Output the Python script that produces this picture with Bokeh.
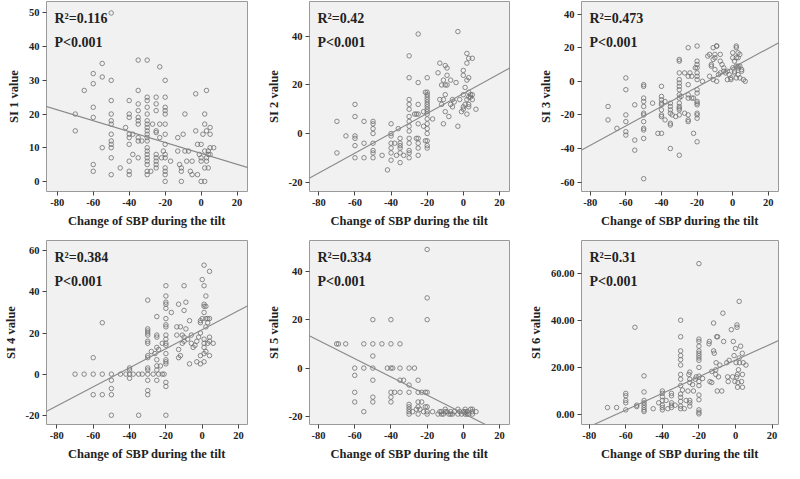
from bokeh.plotting import figure
from bokeh.layouts import gridplot
from bokeh.models import FixedTicker, Slope, Label, Range1d
from bokeh.embed import file_html
from bokeh.resources import INLINE

# ---------------- data ----------------
x_ticks = [-80, -60, -40, -20, 0, 20]
x_tick_labels = ["-80", "-60", "-40", "-20", "0", "20"]
x_title = "Change of SBP during the tilt"

si1_x = [-50, -55, -60, -60, -55, -50, -65, -70, -70, -60, -60, -60, -60, -55, -50, -50, -50, -50, -50, -50, -50, -50, -50, -50,
         -45, -42, -40, -40, -40, -40, -40, -40, -40, -40, -40, -38, -38, -35, -35, -35, -35, -35, -35, -35, -35, -35, -35, -33,
         -30, -30, -30, -30, -30, -30, -30, -30, -30, -30, -30, -30, -30, -30, -30, -30, -30, -30, -30, -30, -28, -27,
         -25, -25, -25, -25, -25, -25, -25, -25, -25, -25, -23, -23, -23, -22,
         -20, -20, -20, -20, -20, -20, -20, -20, -20, -20, -20, -20, -20, -20, -21, -17, -13, -13, -12, -11, -11, -11, -10, -9, -9,
         -8, -7, -6, -5, -5, -3, -3, -2, -2, -1, 0, 0, 0, 1, 0, 2, 2, 2, 2, 2, 3, 3, 3, 3, 4, 4, 4, 5, 5, 5, 5, 7]
si1_y = [50, 35, 32, 29, 31, 30, 27, 20, 15, 22, 19, 5, 3, 10, 24, 20, 18, 17, 14, 12, 11, 10, 7, 2,
         4, 16, 24, 20, 19, 14, 13, 11, 6, 3, 2, 14, 8, 36, 27, 23, 21, 19, 18, 17, 13, 12, 7, 12,
         36, 25, 24, 22, 20, 18, 17, 16, 15, 14, 13, 12, 10, 9, 8, 7, 6, 5, 3, 2, 3, 17,
         25, 23, 21, 15, 14.5, 8, 7, 6, 5, 4, 34, 17, 13, 7,
         30, 25, 22, 21, 20, 17, 14, 11, 8, 7, 4, 3, 2, 0, 9, 6, 13, 9, 5, 4, 3, 0, 14, 9, 20,
         6, 9, 3, 6, 2, 26, 15, 2, 11, 8, 11, 6, 7, 14, 0, 0, 20, 17, 9, 4, 6, 27, 15, 7, 4, 8, 9, 16, 14, 8, 10, 10]

si2_x = [-70, -70, -65, -60, -60, -60, -60, -60, -60, -55, -55, -55, -50, -50, -50, -50, -50, -50, -50, -50,
         -45, -42, -40, -40, -40, -40, -40, -40, -40, -38, -37, -36, -35, -35, -35, -35, -35, -35, -33,
         -30, -30, -30, -30, -30, -30, -30, -30, -30, -30, -30, -30, -30, -30, -27, -26,
         -25, -25, -25, -25, -25, -25, -25, -25, -25, -26, -22, -22, -21, -21,
         -20, -20, -20, -20, -20, -20, -20, -20, -20, -20, -20, -20, -20, -20, -20, -20, -20, -20, -17,
         -14, -13, -13, -12, -12, -11, -11, -11, -10, -10, -10, -10, -9, -9, -9, -8, -7, -7, -6, -6, -5, -4, -3, -3,
         -2, -1, 0, 0, 0, 0, 0, 1, 1, 2, 2, 2, 2, 2, 3, 3, 3, 3, 3, 3, 4, 4, 5, 5, 5, 7]
si2_y = [5, -8, -1, 12, 7, -1, -2, -5, -10, 5, -4, -10, 5, 4, 2, 0, -4, -7, -8, -10,
         -9, -15, 4, 0, -1, -4, -6, -8, -11, -4, -9, 2, -2, -4, -5, -6, -8, -12, -9,
         32, 23, 14, 12, 10, 7, 5, 3, 1, -2, -4, -7, -8, -10, 8, -2,
         41, 21, 12, 8, 4, -2, -4, -6, -9, 8, 9, 3, -3, 17,
         23, 17, 16, 15, 14, 13, 12, 11, 10, 9, 8, 6, 4, 2, 0, -3, -5, -6, 6,
         25, 29, 14, 12, 20, 14, 4, 22, 16, 20, 28, 9, 20, 27, 24, 7, 12, 22, 11, 14, 13, 21, 42, 3,
         14, 9, 26, 24, 16, 11, 10, 19, 12, 8, 33, 29, 14, 22, 11, 31, 23, 17, 12, 15, 16, 15, 31, 16, 14, 10]

si3_x = [-70, -70, -65, -60, -60, -60, -60, -60, -60, -55, -55, -55,
         -50, -50, -50, -50, -50, -50, -50, -50, -50, -50, -50, -50, -45, -42,
         -40, -40, -40, -40, -40, -40, -40, -40, -40, -38, -38, -35, -35, -35, -35, -35, -35, -35, -34, -32,
         -30, -30, -30, -30, -30, -30, -30, -30, -30, -30, -30, -30, -30, -30, -30, -29, -27, -27,
         -25, -25, -25, -25, -25, -25, -25, -25, -24, -23, -23, -22, -22, -21,
         -20, -20, -20, -20, -20, -20, -20, -20, -20, -20, -20, -20, -20, -20, -20, -20,
         -17, -14, -13, -13, -12, -12, -11, -11, -11, -10, -10, -10, -9, -9, -9, -8, -7, -7, -7, -6, -5, -5, -4, -3, -3,
         -2, -1, -1, 0, 0, 0, 1, 1, 1, 2, 2, 2, 2, 2, 3, 3, 3, 3, 3, 4, 4, 4, 5, 5, 6, 7]
si3_y = [-15, -23, -28, 2, -5, -20, -24, -30, -32, -14, -35, -41,
         -2, -3, -10, -12, -15, -19, -20, -24, -28, -29, -34, -58, -13, -31,
         -3, -9, -11, -13, -14, -17, -20, -21, -31, -12, -23, -13, -15, -17, -19, -25, -26, -40, -20, -21,
         13, 12, 5, 1, -1, -3, -5, -8, -10, -13, -15, -16, -17, -20, -44, -9, 5, -19,
         20, 3, -2, -8, -10, -20, -23, -24, 5, -10, 3, -31, -10, 8,
         21, 12, 10, 8, 5, 3, 1, -5, -7, -12, -13, -14, -19, -20, -22, -36,
         0, 15, 16, 3, 9, 10, 1, 13, 20, 16, 14, 7, 21, 21, 0, 4, 5, 16, 12, 10, 8, 6, 5, 1, 6,
         4, 2, 1, 8, 17, 14, 12, 6, 5, 21, 20, 9, 2, 14, 4, 9, 17, 8, 14, 9, 2, 16, 6, 7, 1, 0]

si4_x = [-70, -65, -60, -60, -60, -55, -55, -55, -50, -50, -50, -50, -50, -45, -42, -40, -40, -40, -40, -38, -35, -35, -33,
         -30, -30, -30, -30, -30, -30, -30, -30, -30, -30, -30, -30, -30, -30, -30, -28, -27, -26,
         -25, -25, -25, -25, -25, -25, -25, -25, -24, -24, -23, -22, -22, -21,
         -20, -20, -20, -20, -20, -20, -20, -20, -20, -20, -20, -20, -20, -20, -20, -20, -20, -20, -20,
         -17, -14, -14, -13, -13, -13, -12, -12, -11, -11, -10, -10, -10, -10, -9, -9, -8, -7, -7, -6, -6, -5, -4, -3, -3,
         -2, -1, -1, -1, -1, -1, 0, 0, 1, 1, 1, 1, 1, 1, 1, 1, 1, 1, 2, 2, 2, 2, 2, 3, 3, 3, 4, 4, 4, 4, 4, 6]
si4_y = [0, 0, 0, 8, -10, 0, 25, -10, 0, -3, -7, -10, -20, 0, 0, 0, 3, 2, -2, 0, 0, -20, 0,
         36, 22, 21, 20, 19, 16, 15, 9, 8, 3, 2, 0, -3, -8, -10, 11, 0, 10,
         28, 19, 18, 13, 7, 4, 2, -3, 0, 12, 4, 0, 15, 0,
         43, 38, 35, 32, 34, 27, 24, 23, 19, 17, 15, 14, 10, 7, 6, 5, -4, -6, -20,
         30, 23, 19, 12, 34, 8, 9, 23, 19, 15, 43, 31, 18, 16, 35, 22, 17, 26, 5, 19, 15, 13, 14, 6, 16,
         18, 20, 5, 26, 25, 9, 27, 46, 13, 53, 43, 34, 33, 30, 6, 10, 17, 15, 33, 27, 38, 11, 23, 25, 15, 27, 50, 9, 18, 27, 16, 15]

si5_x = [-70, -69, -65, -60, -60, -60, -60, -55, -55, -55, -50, -50, -50, -50, -50, -50, -50, -45, -42,
         -40, -40, -40, -40, -40, -40, -39, -38, -35, -35, -35, -35, -33,
         -30, -30, -30, -30, -30, -30, -30, -30, -28, -27, -26, -25, -25, -25, -25, -25, -24, -23, -23, -22, -21, -21,
         -20, -20, -20, -20, -20, -20, -20, -17, -14, -13, -12, -12, -11, -10, -10, -9, -8, -7, -7, -6, -5, -3, -3, -2, -1,
         0, 1, 1, 1, 2, 2, 3, 4, 5, 5, 7, 5]
si5_y = [10, 10, 10, 0, -3, -10, -14, 10, 0, -18, 20, 10, 5, 0, -5, -12, -14, 10, 0,
         20, 10, 0, -10, -12, -14, 0, -10, 10, 0, -5, -10, -5,
         0, -7, -10, -15, -16, -17, -18, -19, -18, 0, -17, -5, -10, -14, -16, -19, -17, -10, -14, -18, -10, -16,
         49, 29, 20, -10, -16, -18, -19, -18, -19, -18, -19, -18, -19, -18, -17, -18, -19, -18, -19, -19, -18, -17, -19, -18, -19,
         -18, -19, -18, -17, -19, -18, -19, -17, -18, -17, -18, -19]

si6_x = [-70, -65, -60, -60, -60, -60, -60, -55, -54, -54, -50, -50, -50, -50, -50, -50, -50, -50, -45, -42,
         -40, -40, -40, -40, -40, -40, -40, -38, -37, -35, -35, -35, -35, -35, -33,
         -30, -30, -30, -30, -30, -30, -30, -30, -30, -30, -30, -30, -30, -30, -29, -28, -27, -26,
         -25.5, -25, -25, -25, -25, -25, -25, -23.5, -23, -22, -21.5,
         -20, -20, -20, -20, -20, -20, -20, -20, -20, -20, -20, -20, -20, -20, -20, -20, -20, -20,
         -18, -14.5, -14.3, -14, -13, -13, -12, -12, -11.6, -10.8, -10.8, -10.6, -10.3, -10, -9.8, -9.3, -8.6, -7.5,
         -6.9, -6.5, -4.8, -4.3, -4, -3.5, -2.3, -1.6, -1.2, -0.8, -0.3, 0, 0.3, 0.7, 0.8, 0.8, 1, 1.1, 1.3, 1.6,
         2, 2, 2.2, 2.8, 3.3, 3.7, 3.8, 3.8, 4.2, 5.7]
si6_y = [3, 3, 9, 8, 6, 5, 2, 37, 4, 3.4, 16.4, 9.6, 6, 5, 4, 3, 2, 1.3, 2.5, 5,
         10, 9, 7.6, 6, 4, 3, 2, 6, 2.5, 9, 8, 5, 4, 3, 4,
         40, 33, 27, 25, 23.3, 21, 17, 15, 12.3, 8.7, 7.3, 5.6, 3.6, 2.5, 10.4, 2.5, 6, 10,
         17, 18, 15, 13.6, 6, 5, 3.6, 12.7, 10, 15, 16,
         64, 32, 31, 29, 27, 26, 25, 24, 23, 20, 16.3, 14, 12.3, 8.3, 6.3, 2, 1, 0.3,
         15.3, 30, 31, 14, 18.3, 13.6, 38.8, 27, 26, 19, 17, 22, 33, 10, 33, 16, 21, 10,
         43, 31, 22, 16, 14, 23, 36, 16, 31, 25, 14, 28, 22, 16, 37, 38, 17, 11.6, 13.6, 19,
         24, 48, 22, 29, 14, 26, 17, 11.6, 22, 21]

y_ticks_1 = [0, 10, 20, 30, 40, 50]
y_ticks_2 = [-20, 0, 20, 40]
y_ticks_3 = [-60, -40, -20, 0, 20, 40]
y_ticks_4 = [-20, 0, 20, 40, 60]
y_ticks_5 = [-20, 0, 20, 40]
y_ticks_6 = [0, 20, 40, 60]
y_tick_labels_6 = ["0.00", "20.00", "40.00", "60.00"]

titles = ["SI 1 value", "SI 2 value", "SI 3 value", "SI 4 value", "SI 5 value", "SI 6 value"]
r2_texts = ["R\u00b2=0.116", "R\u00b2=0.42", "R\u00b2=0.473", "R\u00b2=0.384", "R\u00b2=0.334", "R\u00b2=0.31"]
p_text = "P<0.001"
slopes = [-0.162, 0.409, 0.577, 0.464, -0.377, 0.353]
intercepts = [8.3, 16.5, 8.1, 21.7, -18.7, 23.1]

# ---------------- layout / style ----------------
FONT = "Liberation Serif"
panels = [
    dict(x=si1_x, y=si1_y, yt=y_ticks_1, ytl=[str(v) for v in y_ticks_1], xr=(-86, 25.8), yr=(-3, 53.4),
         w=263, h=232, l=35, r=13, t=1, b=41),
    dict(x=si2_x, y=si2_y, yt=y_ticks_2, ytl=[str(v) for v in y_ticks_2], xr=(-85.2, 25.6), yr=(-23.9, 54.4),
         w=262, h=232, l=35, r=13, t=1, b=41),
    dict(x=si3_x, y=si3_y, yt=y_ticks_3, ytl=[str(v) for v in y_ticks_3], xr=(-84.9, 25.7), yr=(-65.6, 47.5),
         w=259, h=232, l=47, r=2, t=1, b=41),
    dict(x=si4_x, y=si4_y, yt=y_ticks_4, ytl=[str(v) for v in y_ticks_4], xr=(-85.7, 24.9), yr=(-24.5, 65),
         w=263, h=231, l=36, r=16, t=8, b=35),
    dict(x=si5_x, y=si5_y, yt=y_ticks_5, ytl=[str(v) for v in y_ticks_5], xr=(-85, 25.5), yr=(-23.3, 52.7),
         w=262, h=231, l=34, r=16, t=8, b=35),
    dict(x=si6_x, y=si6_y, yt=y_ticks_6, ytl=y_tick_labels_6, xr=(-84.2, 23.5), yr=(-4.2, 73.8),
         w=259, h=231, l=46, r=6, t=7, b=35),
]

figs = []
for i, pc in enumerate(panels):
    p = figure(width=pc["w"], height=pc["h"], output_backend="svg", toolbar_location=None,
               x_range=Range1d(*pc["xr"]), y_range=Range1d(*pc["yr"]),
               min_border_left=pc["l"], min_border_right=pc["r"],
               min_border_top=pc["t"], min_border_bottom=pc["b"])
    p.background_fill_color = "#f1f1f1"
    p.border_fill_color = "white"
    p.outline_line_color = "#9a9a9a"
    p.outline_line_width = 1
    p.grid.visible = False

    p.scatter(pc["x"], pc["y"], size=4.5, marker="circle", fill_color=None,
              line_color="#6e6e6e", line_width=0.8)
    p.add_layout(Slope(gradient=slopes[i], y_intercept=intercepts[i], line_color="#888888", line_width=1.1))

    p.xaxis.ticker = FixedTicker(ticks=x_ticks)
    p.xaxis.major_label_overrides = {t: s for t, s in zip(x_ticks, x_tick_labels)}
    p.yaxis.ticker = FixedTicker(ticks=pc["yt"])
    p.yaxis.major_label_overrides = {t: s for t, s in zip(pc["yt"], pc["ytl"])}
    p.xaxis.axis_label = x_title
    p.yaxis.axis_label = titles[i]
    for ax in (p.xaxis, p.yaxis):
        ax.axis_line_color = None
        ax.minor_tick_line_color = None
        ax.major_tick_in = 0
        ax.major_tick_out = 4
        ax.major_tick_line_color = "#444444"
        ax.major_label_text_font = FONT
        ax.major_label_text_font_style = "bold"
        ax.major_label_text_font_size = "10.5px"
        ax.major_label_text_color = "#222222"
        ax.major_label_standoff = 3
        ax.axis_label_text_font = FONT
        ax.axis_label_text_font_style = "bold"
        ax.axis_label_text_font_size = "12.5px"
        ax.axis_label_text_color = "#222222"
        ax.axis_label_standoff = 5

    p.add_layout(Label(x=pc["xr"][0], y=pc["yr"][1], x_offset=8, y_offset=-17, text=r2_texts[i],
                       text_font=FONT, text_font_style="bold", text_font_size="14px",
                       text_color="#222222", text_baseline="alphabetic"))
    p.add_layout(Label(x=pc["xr"][0], y=pc["yr"][1], x_offset=8, y_offset=-41, text=p_text,
                       text_font=FONT, text_font_style="bold", text_font_size="14px",
                       text_color="#222222", text_baseline="alphabetic"))
    figs.append(p)

grid = gridplot([figs[0:3], figs[3:6]], toolbar_location=None)
open("out.html", "w").write(file_html(grid, INLINE))
